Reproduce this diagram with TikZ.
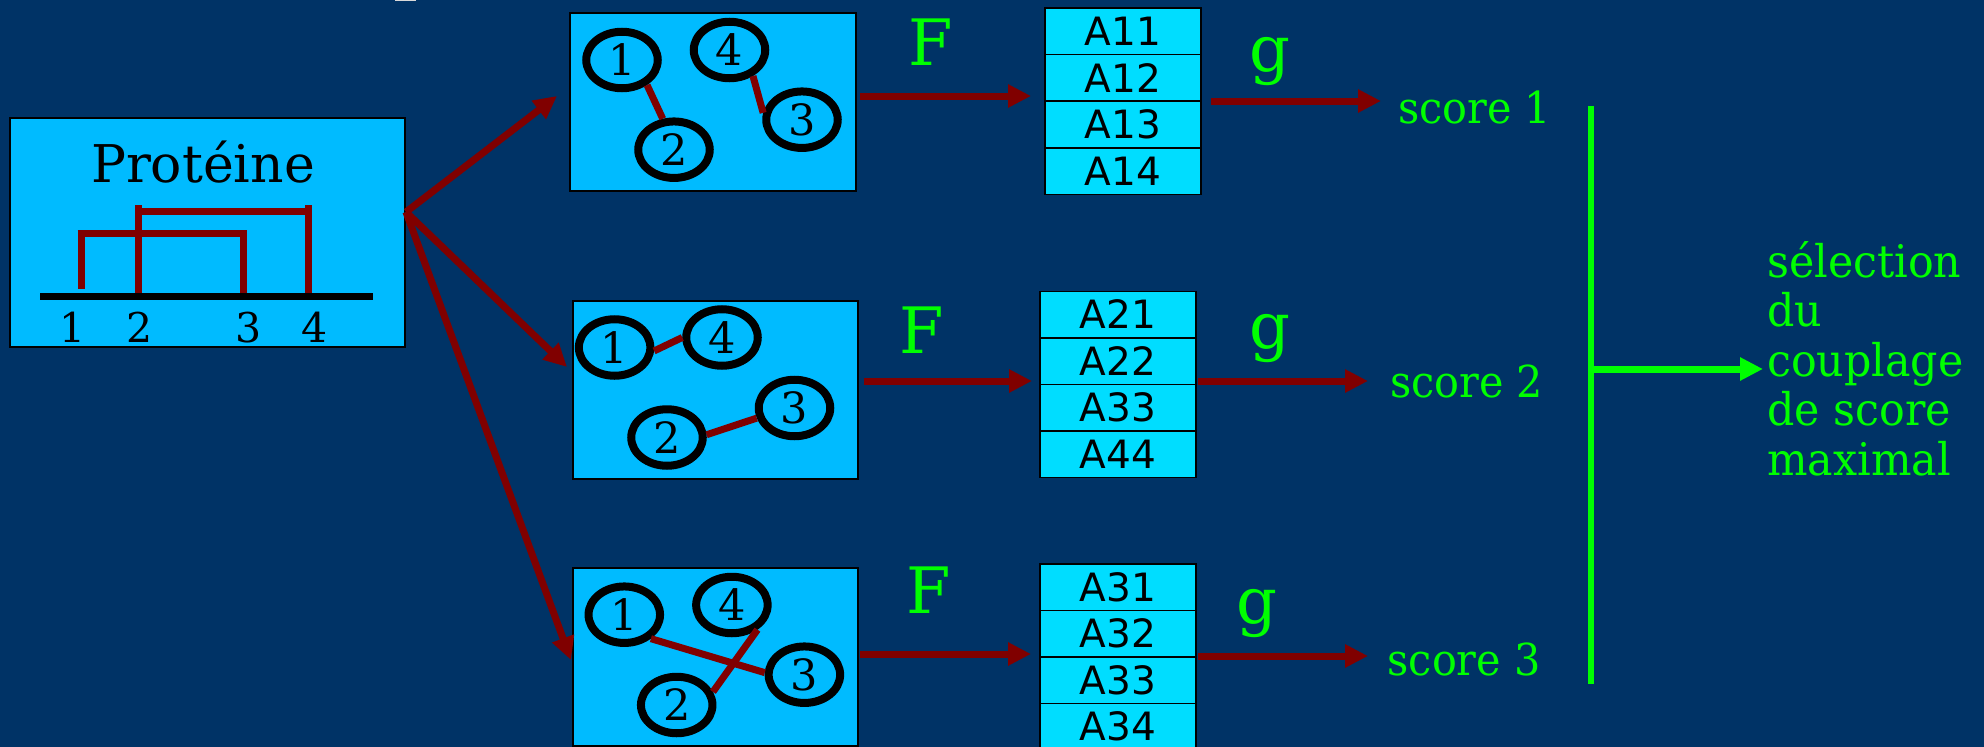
\documentclass[tikz,border=0pt]{standalone}
\usepackage{fontspec}
\setmainfont{DejaVu Serif}
\newfontfamily\sansf{DejaVu Sans}
\newfontfamily\condf[FakeStretch=0.94]{DejaVu Serif}
\newfontfamily\self[FakeStretch=0.95]{DejaVu Serif}
\usetikzlibrary{shapes.geometric,arrows.meta}
\definecolor{bgblue}{HTML}{003366}
\definecolor{boxblue}{HTML}{00BBFF}
\definecolor{cellcyan}{HTML}{00DDFF}
\definecolor{dred}{HTML}{800000}
\definecolor{brgreen}{HTML}{00FF00}
\newcommand\myfs[1]{\fontsize{#1bp}{#1bp}\selectfont}
\tikzset{
  bx/.style={rectangle, draw=black, line width=2bp, fill=boxblue, inner sep=0},
  cell/.style={rectangle, draw=black, line width=1.5bp, fill=cellcyan, minimum width=156bp, minimum height=46.5bp, inner sep=0, font=\sansf\myfs{39}},
  ring/.style={ellipse, draw=black, line width=8bp, minimum width=71.5bp, minimum height=56.5bp, inner sep=0, font=\myfs{43}},
  link/.style={draw=dred, line width=7bp},
  arr/.style={draw=dred, line width=7bp, -{Triangle[length=23bp,width=22bp]}},
  garr/.style={draw=brgreen, line width=7bp, -{Triangle[length=23bp,width=22bp]}},
  glab/.style={text=brgreen, inner sep=0},
  numlab/.style={inner sep=0, anchor=base, font=\myfs{41}},
}
\begin{document}
\begin{tikzpicture}[x=1bp,y=-1bp]
\fill[bgblue] (0,0) rectangle (1984,747);
\useasboundingbox (0,0) rectangle (1984,747);
\fill[gray!30] (395,0) rectangle (416,1.5);

% protein box
\node[bx, minimum width=395bp, minimum height=229bp] (prot) at (207.5,232.5) {};
\node[inner sep=0, anchor=base, font=\myfs{52}] (ptitle) at (203,182) {Protéine};
\draw[link] (81,230) -- (81,289);
\draw[link] (243,230) -- (243,293);
\draw[link] (77.5,233.7) -- (247,233.7);
\draw[link] (138,205) -- (138,295);
\draw[link] (308,205) -- (308,295);
\draw[link] (138,211) -- (308,211);
\draw[black, line width=7bp] (40,296.5) -- (373,296.5);
\node[numlab] (p1) at (73,342) {1};
\node[numlab] (p2) at (140,342) {2};
\node[numlab] (p3) at (249,342) {3};
\node[numlab] (p4) at (315,342) {4};

% three pairing boxes
\node[bx, minimum width=285.5bp, minimum height=178bp] (b1) at (712.75,102) {};
\node[bx, minimum width=285.5bp, minimum height=178.3bp] (b2) at (715.25,389.85) {};
\node[bx, minimum width=285.5bp, minimum height=177.7bp] (b3) at (715.25,657.15) {};

% box 1
\node[ring] (a1) at (622,60) {1};
\node[ring] (a4) at (729.5,50) {4};
\node[ring] (a3) at (802,119.7) {3};
\node[ring] (a2) at (674,149.7) {2};
\draw[link] (a1.-45) -- (a2.110);
\draw[link] (a4.-48) -- (a3.170);
% box 2
\node[ring] (c1) at (614.6,347.5) {1};
\node[ring] (c4) at (722,337.5) {4};
\node[ring] (c3) at (794.5,408) {3};
\node[ring] (c2) at (667,437.5) {2};
\draw[link] (c1.-5) -- (c4.180);
\draw[link] (c2.4) -- (c3.195);
% box 3
\node[ring] (d1) at (624.3,614.7) {1};
\node[ring] (d4) at (731.9,605) {4};
\node[ring] (d3) at (804.4,674.7) {3};
\node[ring] (d2) at (676.7,705) {2};
\draw[link] (d1.-42) -- (d3.177);
\draw[link] (d2.20) -- (d4.-44);

% arrows from protein
\coordinate (src) at (406,212);
\coordinate (tip1) at (557,96);
\coordinate (tip2) at (567,367);
\coordinate (tip3) at (571,660);
\draw[arr] (src) -- (tip1);
\draw[arr] (src) -- (tip2);
\draw[arr] (src) -- (tip3);

% tables
\node[cell] (t11) at (1123,31.5) {A11};
\node[cell] (t12) at (1123,78) {A12};
\node[cell] (t13) at (1123,124.5) {A13};
\node[cell] (t14) at (1123,171) {A14};
\node[cell] (t21) at (1118,314.5) {A21};
\node[cell] (t22) at (1118,361) {A22};
\node[cell] (t23) at (1118,407.5) {A33};
\node[cell] (t24) at (1118,454) {A44};
\node[cell] (t31) at (1118,587) {A31};
\node[cell] (t32) at (1118,633.5) {A32};
\node[cell] (t33) at (1118,680) {A33};
\node[cell] (t34) at (1118,726.5) {A34};

% F arrows
\coordinate (f1s) at (860,96);   \coordinate (f1e) at (1031,96);
\coordinate (f2s) at (863.5,381); \coordinate (f2e) at (1032,381);
\coordinate (f3s) at (860,654);  \coordinate (f3e) at (1031,654);
\draw[arr] (f1s) -- (f1e);
\draw[arr] (f2s) -- (f2e);
\draw[arr] (f3s) -- (f3e);
\node[glab, anchor=base, font=\myfs{64}] (F1) at (931,66) {F};
\node[glab, anchor=base, font=\myfs{64}] (F2) at (921.6,353) {F};
\node[glab, anchor=base, font=\myfs{64}] (F3) at (928.6,613) {F};

% g arrows
\coordinate (g1s) at (1211,101); \coordinate (g1e) at (1381,101);
\coordinate (g2s) at (1198,381); \coordinate (g2e) at (1368,381);
\coordinate (g3s) at (1198,656); \coordinate (g3e) at (1368,656);
\draw[arr] (g1s) -- (g1e);
\draw[arr] (g2s) -- (g2e);
\draw[arr] (g3s) -- (g3e);
\node[glab, anchor=base, font=\myfs{64}] (G1) at (1269.5,72) {g};
\node[glab, anchor=base, font=\myfs{64}] (G2) at (1269.5,348) {g};
\node[glab, anchor=base, font=\myfs{64}] (G3) at (1257,623) {g};

% scores
\node[glab, anchor=base west, font=\condf\myfs{44}] (s1) at (1398,123.3) {score 1};
\node[glab, anchor=base west, font=\condf\myfs{44}] (s2) at (1390,397) {score 2};
\node[glab, anchor=base west, font=\condf\myfs{44}] (s3) at (1387.5,675.6) {score 3};

% selection
\coordinate (vtop) at (1591,106);
\coordinate (vbot) at (1591,684);
\coordinate (vmid) at (1591,369);
\coordinate (selend) at (1763,369);
\draw[brgreen, line width=6.5bp] (vtop) -- (vbot);
\draw[garr] (vmid) -- (selend);
\node[glab, anchor=north west, align=left, font={\self\fontsize{45bp}{49.5bp}\selectfont}] (sel) at (1767,241.2)
  {sélection\\du\\couplage\\de score\\maximal};
\end{tikzpicture}
\end{document}
